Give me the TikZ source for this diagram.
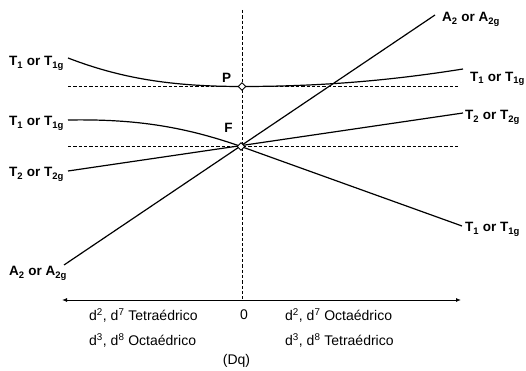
\documentclass[tikz,border=0pt]{standalone}
\usepackage{fontspec}
\setmainfont{Liberation Sans}
\usetikzlibrary{arrows.meta,shapes.geometric}
\begin{document}
\begin{tikzpicture}[x=1pt,y=1pt,
  curve/.style={line width=1.2pt},
  guide/.style={dash pattern=on 3.3pt off 2pt, line width=0.9pt},
  lbl/.style={font=\fontsize{13.5}{15}\selectfont\bfseries, inner sep=0pt},
  txt/.style={font=\fontsize{14}{16}\selectfont, inner sep=0pt},
  ptbox/.style={diamond, draw, fill=white, inner sep=0pt, minimum width=8pt, minimum height=8pt, line width=0.9pt},
  axis/.style={line width=0.9pt, {Latex[length=5pt,width=4pt]}-{Latex[length=5pt,width=4pt]}}
]
\useasboundingbox (0,0) rectangle (526,371);
% coordinates
\coordinate (vtop) at (242,361);
\coordinate (vbot) at (242,71);
\coordinate (axL) at (62,71);
\coordinate (axR) at (461,71);
\coordinate (P0) at (242,284.5);
\coordinate (F0) at (241,224.5);
\coordinate (hPl) at (68,284.5);
\coordinate (hPr) at (460,284.5);
\coordinate (hFl) at (68,224.5);
\coordinate (hFr) at (460,224.5);
\coordinate (a2l) at (64,106);
\coordinate (a2r) at (435,356);
\coordinate (t2l) at (68,200);
\coordinate (t2r) at (463,258);
\coordinate (t1ml) at (68,251);
\coordinate (t1mr) at (462,145);
\coordinate (t1ul) at (68,313);
\coordinate (t1ur) at (463,302);
% guides
\draw[guide] (vtop) -- (vbot);
\draw[guide] (hPl) -- (hPr);
\draw[guide] (hFl) -- (hFr);
% axis
\draw[axis] (axL) -- (axR);
% curves
\draw[curve] (a2l) -- (a2r);
\draw[curve] (t2l) -- (t2r);
\draw[curve] (t1ml) .. controls (130,252) and (180,246) .. (F0) -- (t1mr);
\draw[curve] (t1ul) .. controls (120,293) and (170,284.5) .. (P0) .. controls (330,284.5) and (400,292) .. (t1ur);
% markers
\node[ptbox] (P) at (P0) {};
\node[ptbox] (F) at (F0) {};
\node[lbl, anchor=base] (Plbl) at (226.5,288) {P};
\node[lbl, anchor=base] (Flbl) at (228.5,238) {F};
% left labels
\node[lbl, anchor=base east] (L1) at (64,305) {T\textsubscript{1} or T\textsubscript{1g}};
\node[lbl, anchor=base east] (L2) at (64,245) {T\textsubscript{1} or T\textsubscript{1g}};
\node[lbl, anchor=base east] (L3) at (64,194) {T\textsubscript{2} or T\textsubscript{2g}};
\node[lbl, anchor=base east] (L4) at (67,95) {A\textsubscript{2} or A\textsubscript{2g}};
% right labels
\node[lbl, anchor=base west] (R1) at (442,349) {A\textsubscript{2} or A\textsubscript{2g}};
\node[lbl, anchor=base west] (R2) at (470,289.5) {T\textsubscript{1} or T\textsubscript{1g}};
\node[lbl, anchor=base west] (R3) at (465,251) {T\textsubscript{2} or T\textsubscript{2g}};
\node[lbl, anchor=base west] (R4) at (465,139) {T\textsubscript{1} or T\textsubscript{1g}};
% bottom texts
\node[txt, anchor=base] (zero) at (244,51) {0};
\node[txt, anchor=base west] (b1) at (89,50) {d\textsuperscript{2}, d\textsuperscript{7} Tetraédrico};
\node[txt, anchor=base west] (b2) at (89,25) {d\textsuperscript{3}, d\textsuperscript{8} Octaédrico};
\node[txt, anchor=base west] (b3) at (285,50) {d\textsuperscript{2}, d\textsuperscript{7} Octaédrico};
\node[txt, anchor=base west] (b4) at (285,25) {d\textsuperscript{3}, d\textsuperscript{8} Tetraédrico};
\node[txt, anchor=base] (dq) at (236.5,6) {(Dq)};
\end{tikzpicture}
\end{document}
